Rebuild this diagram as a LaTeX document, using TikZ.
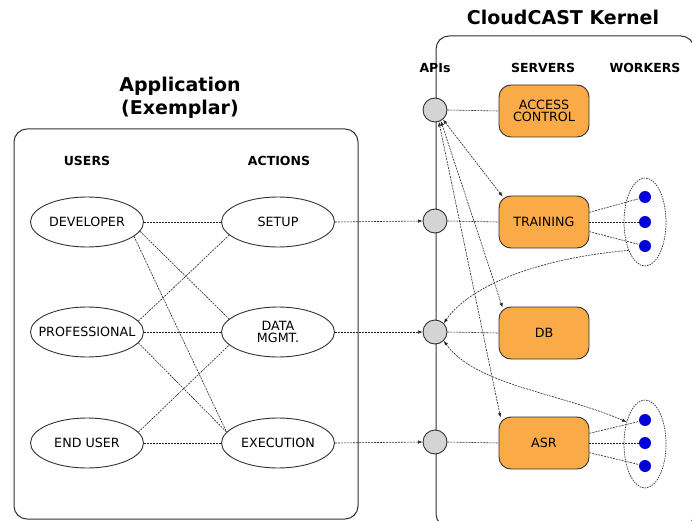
\documentclass[tikz,border=0pt]{standalone}
\usepackage{fontspec}
\setmainfont{DejaVu Sans}
\usetikzlibrary{shapes.geometric,arrows.meta}
\definecolor{srvorange}{RGB}{250,170,70}
\definecolor{apigrey}{RGB}{212,212,212}
\definecolor{dotblue}{RGB}{0,0,215}
\definecolor{boxline}{RGB}{50,50,50}
\tikzset{
  body/.style={font=\fontsize{12.7}{14.5}\selectfont},
  hdr/.style={font=\fontsize{12.5}{14.5}\selectfont\bfseries},
  ttl/.style={font=\fontsize{19}{23}\selectfont\bfseries, align=center},
  oval/.style={ellipse, draw=boxline, line width=0.9pt, minimum width=113pt, minimum height=50pt, inner xsep=-16pt, inner ysep=0pt, body, align=center},
  srv/.style={rectangle, rounded corners=12pt, draw=boxline, line width=0.9pt, fill=srvorange, minimum width=90pt, minimum height=52pt, body, align=center},
  api/.style={circle, draw=boxline, line width=0.9pt, fill=apigrey, minimum size=24pt, inner sep=0pt},
  wgroup/.style={ellipse, draw=boxline, dash pattern=on 1.5pt off 1pt, line width=0.7pt, minimum width=42pt, minimum height=88pt, inner sep=0pt},
  wdot/.style={circle, fill=dotblue, minimum size=12pt, inner sep=0pt},
  lnk/.style={dash pattern=on 2pt off 1pt, line width=0.6pt, draw=black!85},
  arr/.style={lnk, -{Latex[length=4.5pt,width=3.5pt]}},
  biarr/.style={lnk, {Latex[length=4.5pt,width=3.5pt]}-{Latex[length=4.5pt,width=3.5pt]}},
  frame/.style={draw=boxline, line width=1pt, rounded corners=13pt}
}
\begin{document}
\begin{tikzpicture}[x=1pt,y=-1pt]
\useasboundingbox (0,0) rectangle (692,521);
\clip (0,0) rectangle (692,521);
\fill[white] (0,0) rectangle (692,521);

% frames
\draw[frame] (14,129) rectangle (358,519);
\draw[frame] (436,36) rectangle (694,527);

% titles
\node[ttl] (apptitle) at (180,98) {Application\\(Exemplar)};
\node[ttl] (kerneltitle) at (563,17) {CloudCAST Kernel};

% headers
\node[hdr] (husers) at (87,161) {USERS};
\node[hdr] (hactions) at (279,161) {ACTIONS};
\node[hdr] (hapis) at (435,68) {APIs};
\node[hdr] (hservers) at (543,68) {SERVERS};
\node[hdr] (hworkers) at (645,68) {WORKERS};

% users
\node[oval] (dev) at (87,222) {DEVELOPER};
\node[oval] (prof) at (87,332) {PROFESSIONAL};
\node[oval] (enduser) at (87,443) {END USER};

% actions
\node[oval] (setup) at (278,222) {SETUP};
\node[oval] (data) at (278,332) {DATA\\[-2pt]MGMT.};
\node[oval] (exec) at (278,443) {EXECUTION};

% APIs
\node[api] (api1) at (435,110) {};
\node[api] (api2) at (435,221) {};
\node[api] (api3) at (435,332) {};
\node[api] (api4) at (435,442) {};

% servers
\node[srv] (acc) at (544,111) {ACCESS\\[-2pt]CONTROL};
\node[srv] (train) at (544,222) {TRAINING};
\node[srv] (db) at (544,333) {DB};
\node[srv] (asr) at (544,443) {ASR};

% workers
\node[wgroup] (wg1) at (645,222) {};
\node[wgroup] (wg2) at (645,444) {};
\node[wdot] (w1a) at (645,197) {};
\node[wdot] (w1b) at (645,222) {};
\node[wdot] (w1c) at (645,246) {};
\node[wdot] (w2a) at (645,420) {};
\node[wdot] (w2b) at (645,443) {};
\node[wdot] (w2c) at (645,466) {};

% user-action links
\draw[lnk] (dev.east) -- (setup.west);
\draw[lnk] (dev.-10) -- (data.165);
\draw[lnk] (dev.-17) -- (exec.168);
\draw[lnk] (prof.12) -- (setup.-165);
\draw[lnk, line width=0.9pt] (prof.east) -- (data.west);
\draw[lnk] (prof.-12) -- (exec.168);
\draw[lnk] (enduser.12) -- (data.-165);
\draw[lnk] (enduser.east) -- (exec.west);

% actions to APIs
\draw[arr] (setup.east) -- (api2.west);
\draw[arr] (data.east) -- (api3.west);
\draw[arr] (exec.east) -- (api4.west);

% APIs to servers
\draw[lnk] (api1.east) -- (acc.west);
\draw[lnk] (api2.east) -- (train.west);
\draw[lnk] (api3.east) -- (db.west);
\draw[lnk] (api4.east) -- (asr.west);

% access API to servers
\draw[biarr] (api1.-50) -- ([xshift=4pt,yshift=-1pt]train.north west);
\draw[biarr] (api1.-62) -- ([xshift=4pt,yshift=-1pt]db.north west);
\draw[biarr] (api1.-72) -- ([xshift=2pt,yshift=-1pt]asr.north west);

% training to workers
\draw[lnk] (train.12) -- (w1a);
\draw[lnk] (train.east) -- (w1b);
\draw[lnk] (train.-12) -- (w1c);
\draw[lnk] (asr.12) -- (w2a);
\draw[lnk] (asr.east) -- (w2b);
\draw[lnk] (asr.-12) -- (w2c);

% curved links
\draw[arr] (wg1.-120) .. controls (540,258) and (470,285) .. (api3.45);
\draw[biarr] (api3.-45) .. controls (475,385) and (560,393) .. (wg2.130);
\end{tikzpicture}
\end{document}
